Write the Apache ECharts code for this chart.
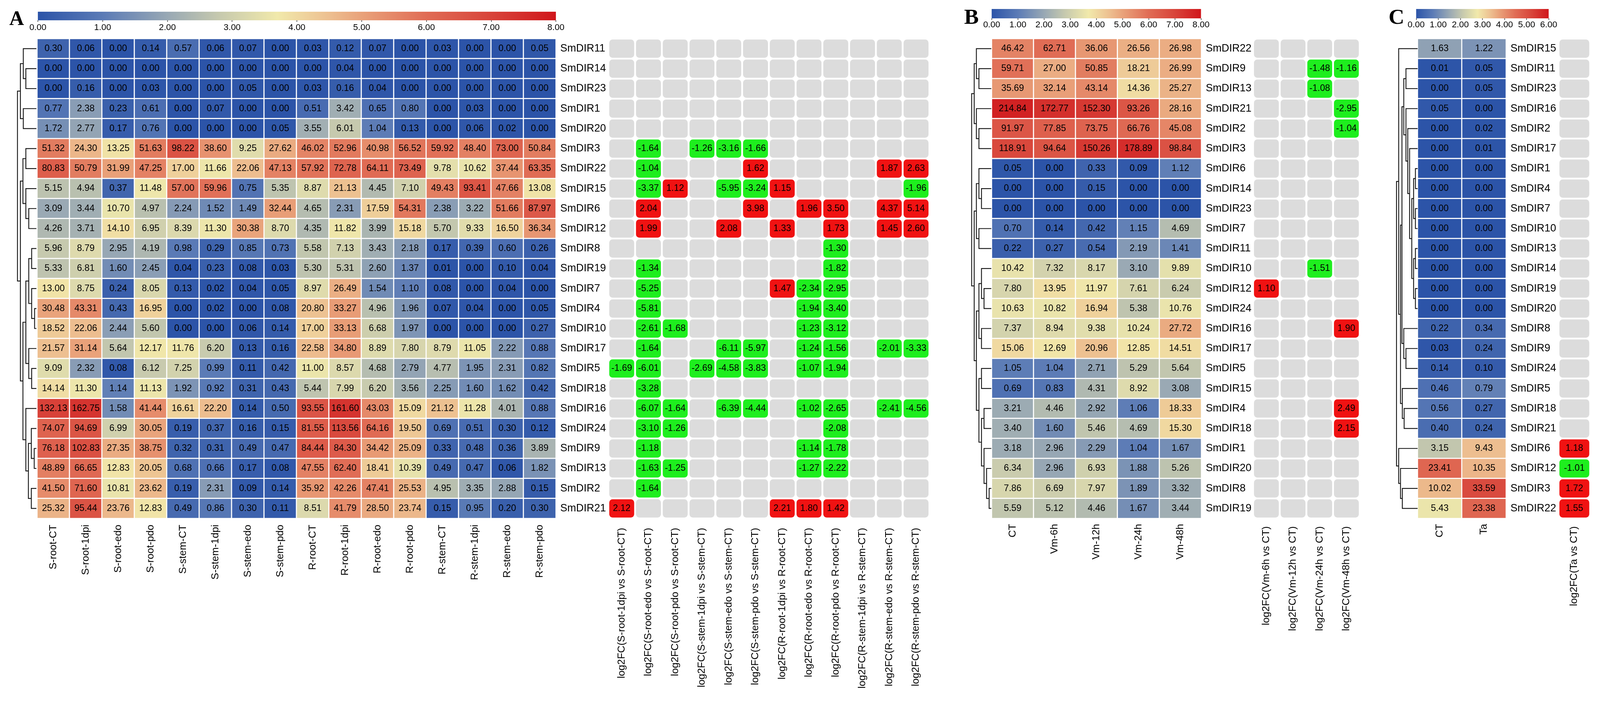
<!DOCTYPE html>
<html>
<head>
<meta charset="utf-8">
<script src="https://cdn.jsdelivr.net/npm/echarts/dist/echarts.min.js"></script>
<style>
  html, body { margin: 0; padding: 0; background: #fff; overflow: hidden; }
  #chart { width: 100vw; height: 100vh; }
</style>
</head>
<body>
<div id="chart"></div>
<script>
// ---- panel A : expression (FPKM) + log2FC ----
var samplesA = ['S-root-CT','S-root-1dpi','S-root-edo','S-root-pdo','S-stem-CT','S-stem-1dpi','S-stem-edo','S-stem-pdo',
                'R-root-CT','R-root-1dpi','R-root-edo','R-root-pdo','R-stem-CT','R-stem-1dpi','R-stem-edo','R-stem-pdo'];
var genesA = ['SmDIR11','SmDIR14','SmDIR23','SmDIR1','SmDIR20','SmDIR3','SmDIR22','SmDIR15','SmDIR6','SmDIR12','SmDIR8','SmDIR19',
              'SmDIR7','SmDIR4','SmDIR10','SmDIR17','SmDIR5','SmDIR18','SmDIR16','SmDIR24','SmDIR9','SmDIR13','SmDIR2','SmDIR21'];
var exprA = [
  [0.30,0.06,0.00,0.14,0.57,0.06,0.07,0.00,0.03,0.12,0.07,0.00,0.03,0.00,0.00,0.05],
  [0.00,0.00,0.00,0.00,0.00,0.00,0.00,0.00,0.00,0.04,0.00,0.00,0.00,0.00,0.00,0.00],
  [0.00,0.16,0.00,0.03,0.00,0.00,0.05,0.00,0.03,0.16,0.04,0.00,0.00,0.00,0.00,0.00],
  [0.77,2.38,0.23,0.61,0.00,0.07,0.00,0.00,0.51,3.42,0.65,0.80,0.00,0.03,0.00,0.00],
  [1.72,2.77,0.17,0.76,0.00,0.00,0.00,0.05,3.55,6.01,1.04,0.13,0.00,0.06,0.02,0.00],
  [51.32,24.30,13.25,51.63,98.22,38.60,9.25,27.62,46.02,52.96,40.98,56.52,59.92,48.40,73.00,50.84],
  [80.83,50.79,31.99,47.25,17.00,11.66,22.06,47.13,57.92,72.78,64.11,73.49,9.78,10.62,37.44,63.35],
  [5.15,4.94,0.37,11.48,57.00,59.96,0.75,5.35,8.87,21.13,4.45,7.10,49.43,93.41,47.66,13.08],
  [3.09,3.44,10.70,4.97,2.24,1.52,1.49,32.44,4.65,2.31,17.59,54.31,2.38,3.22,51.66,87.97],
  [4.26,3.71,14.10,6.95,8.39,11.30,30.38,8.70,4.35,11.82,3.99,15.18,5.70,9.33,16.50,36.34],
  [5.96,8.79,2.95,4.19,0.98,0.29,0.85,0.73,5.58,7.13,3.43,2.18,0.17,0.39,0.60,0.26],
  [5.33,6.81,1.60,2.45,0.04,0.23,0.08,0.03,5.30,5.31,2.60,1.37,0.01,0.00,0.10,0.04],
  [13.00,8.75,0.24,8.05,0.13,0.02,0.04,0.05,8.97,26.49,1.54,1.10,0.08,0.00,0.04,0.00],
  [30.48,43.31,0.43,16.95,0.00,0.02,0.00,0.08,20.80,33.27,4.96,1.96,0.07,0.04,0.00,0.05],
  [18.52,22.06,2.44,5.60,0.00,0.00,0.06,0.14,17.00,33.13,6.68,1.97,0.00,0.00,0.00,0.27],
  [21.57,31.14,5.64,12.17,11.76,6.20,0.13,0.16,22.58,34.80,8.89,7.80,8.79,11.05,2.22,0.88],
  [9.09,2.32,0.08,6.12,7.25,0.99,0.11,0.42,11.00,8.57,4.68,2.79,4.77,1.95,2.31,0.82],
  [14.14,11.30,1.14,11.13,1.92,0.92,0.31,0.43,5.44,7.99,6.20,3.56,2.25,1.60,1.62,0.42],
  [132.13,162.75,1.58,41.44,16.61,22.20,0.14,0.50,93.55,161.60,43.03,15.09,21.12,11.28,4.01,0.88],
  [74.07,94.69,6.99,30.05,0.19,0.37,0.16,0.15,81.55,113.56,64.16,19.50,0.69,0.51,0.30,0.12],
  [76.18,102.83,27.35,38.75,0.32,0.31,0.49,0.47,84.44,84.30,34.42,25.09,0.33,0.48,0.36,3.89],
  [48.89,66.65,12.83,20.05,0.68,0.66,0.17,0.08,47.55,62.40,18.41,10.39,0.49,0.47,0.06,1.82],
  [41.50,71.60,10.81,23.62,0.19,2.31,0.09,0.14,35.92,42.26,47.41,25.53,4.95,3.35,2.88,0.15],
  [25.32,95.44,23.76,12.83,0.49,0.86,0.30,0.11,8.51,41.79,28.50,23.74,0.15,0.95,0.20,0.30]
];
var fcNamesA = ['log2FC(S-root-1dpi vs S-root-CT)','log2FC(S-root-edo vs S-root-CT)','log2FC(S-root-pdo vs S-root-CT)',
                'log2FC(S-stem-1dpi vs S-stem-CT)','log2FC(S-stem-edo vs S-stem-CT)','log2FC(S-stem-pdo vs S-stem-CT)',
                'log2FC(R-root-1dpi vs R-root-CT)','log2FC(R-root-edo vs R-root-CT)','log2FC(R-root-pdo vs R-root-CT)',
                'log2FC(R-stem-1dpi vs R-stem-CT)','log2FC(R-stem-edo vs R-stem-CT)','log2FC(R-stem-pdo vs R-stem-CT)'];
// [gene, comparison index, log2FC]  (only significant ones are coloured)
var fcA = [
  ['SmDIR3',1,-1.64],['SmDIR3',3,-1.26],['SmDIR3',4,-3.16],['SmDIR3',5,-1.66],
  ['SmDIR22',1,-1.04],['SmDIR22',5,1.62],['SmDIR22',10,1.87],['SmDIR22',11,2.63],
  ['SmDIR15',1,-3.37],['SmDIR15',2,1.12],['SmDIR15',4,-5.95],['SmDIR15',5,-3.24],['SmDIR15',6,1.15],['SmDIR15',11,-1.96],
  ['SmDIR6',1,2.04],['SmDIR6',5,3.98],['SmDIR6',7,1.96],['SmDIR6',8,3.50],['SmDIR6',10,4.37],['SmDIR6',11,5.14],
  ['SmDIR12',1,1.99],['SmDIR12',4,2.08],['SmDIR12',6,1.33],['SmDIR12',8,1.73],['SmDIR12',10,1.45],['SmDIR12',11,2.60],
  ['SmDIR8',8,-1.30],
  ['SmDIR19',1,-1.34],['SmDIR19',8,-1.82],
  ['SmDIR7',1,-5.25],['SmDIR7',6,1.47],['SmDIR7',7,-2.34],['SmDIR7',8,-2.95],
  ['SmDIR4',1,-5.81],['SmDIR4',7,-1.94],['SmDIR4',8,-3.40],
  ['SmDIR10',1,-2.61],['SmDIR10',2,-1.68],['SmDIR10',7,-1.23],['SmDIR10',8,-3.12],
  ['SmDIR17',1,-1.64],['SmDIR17',4,-6.11],['SmDIR17',5,-5.97],['SmDIR17',7,-1.24],['SmDIR17',8,-1.56],['SmDIR17',10,-2.01],['SmDIR17',11,-3.33],
  ['SmDIR5',0,-1.69],['SmDIR5',1,-6.01],['SmDIR5',3,-2.69],['SmDIR5',4,-4.58],['SmDIR5',5,-3.83],['SmDIR5',7,-1.07],['SmDIR5',8,-1.94],
  ['SmDIR18',1,-3.28],
  ['SmDIR16',1,-6.07],['SmDIR16',2,-1.64],['SmDIR16',4,-6.39],['SmDIR16',5,-4.44],['SmDIR16',7,-1.02],['SmDIR16',8,-2.65],['SmDIR16',10,-2.41],['SmDIR16',11,-4.56],
  ['SmDIR24',1,-3.10],['SmDIR24',2,-1.26],['SmDIR24',8,-2.08],
  ['SmDIR9',1,-1.18],['SmDIR9',7,-1.14],['SmDIR9',8,-1.78],
  ['SmDIR13',1,-1.63],['SmDIR13',2,-1.25],['SmDIR13',7,-1.27],['SmDIR13',8,-2.22],
  ['SmDIR2',1,-1.64],
  ['SmDIR21',0,2.12],['SmDIR21',6,2.21],['SmDIR21',7,1.80],['SmDIR21',8,1.42]
];
// row dendrogram: [child, child, height]; ids >= 24 are earlier merges
var treeA = [
  [1,2,29],[0,24,36],[3,4,36],[25,26,44],[5,6,29],[8,9,21],[7,29,29],[28,30,37],
  [10,11,13],[13,14,5],[12,33,13],[32,34,21],[16,17,13],[15,36,21],[35,37,29],
  [20,21,6],[19,39,14],[22,23,14],[40,41,22],[18,42,29],[38,43,37],[31,44,44],[27,45,52]
];

// ---- panel B ----
var samplesB = ['CT','Vm-6h','Vm-12h','Vm-24h','Vm-48h'];
var genesB = ['SmDIR22','SmDIR9','SmDIR13','SmDIR21','SmDIR2','SmDIR3','SmDIR6','SmDIR14','SmDIR23','SmDIR7','SmDIR11','SmDIR10',
              'SmDIR12','SmDIR24','SmDIR16','SmDIR17','SmDIR5','SmDIR15','SmDIR4','SmDIR18','SmDIR1','SmDIR20','SmDIR8','SmDIR19'];
var exprB = [
  [46.42,62.71,36.06,26.56,26.98],
  [59.71,27.00,50.85,18.21,26.99],
  [35.69,32.14,43.14,14.36,25.27],
  [214.84,172.77,152.30,93.26,28.16],
  [91.97,77.85,73.75,66.76,45.08],
  [118.91,94.64,150.26,178.89,98.84],
  [0.05,0.00,0.33,0.09,1.12],
  [0.00,0.00,0.15,0.00,0.00],
  [0.00,0.00,0.00,0.00,0.00],
  [0.70,0.14,0.42,1.15,4.69],
  [0.22,0.27,0.54,2.19,1.41],
  [10.42,7.32,8.17,3.10,9.89],
  [7.80,13.95,11.97,7.61,6.24],
  [10.63,10.82,16.94,5.38,10.76],
  [7.37,8.94,9.38,10.24,27.72],
  [15.06,12.69,20.96,12.85,14.51],
  [1.05,1.04,2.71,5.29,5.64],
  [0.69,0.83,4.31,8.92,3.08],
  [3.21,4.46,2.92,1.06,18.33],
  [3.40,1.60,5.46,4.69,15.30],
  [3.18,2.96,2.29,1.04,1.67],
  [6.34,2.96,6.93,1.88,5.26],
  [7.86,6.69,7.97,1.89,3.32],
  [5.59,5.12,4.46,1.67,3.44]
];
var fcNamesB = ['log2FC(Vm-6h vs CT)','log2FC(Vm-12h vs CT)','log2FC(Vm-24h vs CT)','log2FC(Vm-48h vs CT)'];
var fcB = [
  ['SmDIR9',2,-1.48],['SmDIR9',3,-1.16],['SmDIR13',2,-1.08],['SmDIR21',3,-2.95],['SmDIR2',3,-1.04],
  ['SmDIR10',2,-1.51],['SmDIR12',0,1.10],['SmDIR16',3,1.90],['SmDIR4',3,2.49],['SmDIR18',3,2.15]
];
var treeB = [
  [1,2,34],[0,24,41],[4,5,34],[3,26,41],[25,27,47],
  [7,8,27],[6,29,34],[9,10,34],[30,31,41],
  [12,13,20],[11,33,27],[14,15,27],[34,35,34],
  [16,17,27],[18,19,20],[22,23,6],[21,39,13],[20,40,20],[38,41,27],[37,42,34],
  [36,43,41],[32,44,47],[28,45,54]
];

// ---- panel C ----
var samplesC = ['CT','Ta'];
var genesC = ['SmDIR15','SmDIR11','SmDIR23','SmDIR16','SmDIR2','SmDIR17','SmDIR1','SmDIR4','SmDIR7','SmDIR10','SmDIR13','SmDIR14',
              'SmDIR19','SmDIR20','SmDIR8','SmDIR9','SmDIR24','SmDIR5','SmDIR18','SmDIR21','SmDIR6','SmDIR12','SmDIR3','SmDIR22'];
var exprC = [
  [1.63,1.22],[0.01,0.05],[0.00,0.05],[0.05,0.00],[0.00,0.02],[0.00,0.01],[0.00,0.00],[0.00,0.00],
  [0.00,0.00],[0.00,0.00],[0.00,0.00],[0.00,0.00],[0.00,0.00],[0.00,0.00],[0.22,0.34],[0.03,0.24],
  [0.14,0.10],[0.46,0.79],[0.56,0.27],[0.40,0.24],[3.15,9.43],[23.41,10.35],[10.02,33.59],[5.43,23.38]
];
var fcNamesC = ['log2FC(Ta vs CT)'];
var fcC = [['SmDIR6',0,1.18],['SmDIR12',0,-1.01],['SmDIR3',0,1.72],['SmDIR22',0,1.55]];
var treeC = [
  [6,7,6],[8,9,6],[24,25,11],[10,11,6],[12,13,6],[27,28,11],[26,29,16],[5,30,22],[4,31,27],[3,32,32],
  [1,2,32],[34,33,38],[15,16,32],[14,36,38],[35,37,43],[18,19,37],[17,39,42],[38,40,47],[0,41,52],
  [22,23,42],[21,43,47],[20,44,52],[42,45,58]
];

var scaleMaxAB = 8, scaleMaxC = 6;

// ---------------- layout scaling (designed for 4395 x 1829) ----------------
var el = document.getElementById('chart');
var kx = (el.clientWidth || 4395) / 4395, ky = (el.clientHeight || 1829) / 1829, kf = Math.min(kx, ky);
function X(v) { return v * kx; }
function Y(v) { return v * ky; }
function F(v) { return Math.round(v * kf * 10) / 10; }

var FONT = 'Arial, "Liberation Sans", sans-serif';
var stops = [[0,'#2c54a8'],[1,'#5b7bb6'],[2,'#98a8b4'],[2.8,'#c6c9ae'],[3.7,'#f1e9ab'],[4.5,'#edbf90'],
             [5,'#e9a27a'],[6,'#e06c55'],[7,'#d8443a'],[8,'#d0161b']];
function hex(c) { return [parseInt(c.substr(1,2),16), parseInt(c.substr(3,2),16), parseInt(c.substr(5,2),16)]; }
function colorAt(v) {
  for (var i = 1; i < stops.length; i++) {
    if (v <= stops[i][0]) {
      var a = hex(stops[i-1][1]), b = hex(stops[i][1]);
      var t = (v - stops[i-1][0]) / (stops[i][0] - stops[i-1][0]);
      return 'rgb(' + [0,1,2].map(function (k) { return Math.round(a[k] + (b[k]-a[k])*t); }).join(',') + ')';
    }
  }
  return stops[stops.length-1][1];
}
var palette = [];
for (var p = 0; p <= 64; p++) palette.push(colorAt(p / 8));
function gradient() {
  return new echarts.graphic.LinearGradient(0, 0, 1, 0, stops.map(function (s) { return {offset: s[0]/8, color: s[1]}; }));
}

function heatData(expr, cap) {
  var out = [];
  expr.forEach(function (row, r) {
    row.forEach(function (v, c) { out.push([c, r, Math.min(Math.log2(v + 1), cap), v]); });
  });
  return out;
}
function fcData(genes, ncol, fc) {
  var out = [];
  genes.forEach(function (g, r) { for (var c = 0; c < ncol; c++) out.push([c, r, 0, 0]); });
  fc.forEach(function (f) {
    var r = genes.indexOf(f[0]);
    out[r * ncol + f[1]] = [f[1], r, f[2], 1];
  });
  return out;
}
function dendro(tree, n) {
  var pos = [], ht = [], lines = [];
  for (var i = 0; i < n; i++) { pos[i] = i; ht[i] = 0; }
  tree.forEach(function (m, k) {
    var a = m[0], b = m[1], h = m[2], id = n + k;
    pos[id] = (pos[a] + pos[b]) / 2; ht[id] = h;
    lines.push({coords: [[ht[a], pos[a]], [h, pos[a]], [h, pos[b]], [ht[b], pos[b]]]});
  });
  return lines;
}
function fcRender(params, api) {
  var c = api.coord([api.value(0), api.value(1)]);
  var s = api.size([1, 1]);
  var w = s[0] - X(5), h = s[1] - Y(4.5);
  var has = api.value(3) === 1, v = api.value(2);
  return {
    type: 'rect',
    shape: {x: c[0] - w/2, y: c[1] - h/2, width: w, height: h, r: F(9)},
    style: {fill: has ? (v > 0 ? '#f01212' : '#1eee1e') : '#dcdcdc'},
    textContent: {style: {text: has ? v.toFixed(2) : '', fill: '#000', font: F(25) + 'px ' + FONT}},
    textConfig: {position: 'inside'}
  };
}

var TOP = Y(99), H = Y(1229);
var grids = [
  {left: X(102), top: TOP, width: X(1425), height: H},   // 0 heat A
  {left: X(2724), top: TOP, width: X(576), height: H},   // 1 heat B
  {left: X(3894), top: TOP, width: X(243), height: H},   // 2 heat C
  {left: X(1671), top: TOP, width: X(882), height: H},   // 3 fc A
  {left: X(3442), top: TOP, width: X(293), height: H},   // 4 fc B
  {left: X(4281), top: TOP, width: X(87), height: H},    // 5 fc C
  {left: X(40), top: TOP, width: X(60), height: H},      // 6 dendro A
  {left: X(2663), top: TOP, width: X(60), height: H},    // 7 dendro B
  {left: X(3834), top: TOP, width: X(60), height: H},    // 8 dendro C
  {left: X(104), top: Y(30), width: X(1423), height: Y(22)},   // 9 colour bar A
  {left: X(2724), top: Y(23), width: X(575), height: Y(24)},   // 10 colour bar B
  {left: X(3890), top: Y(23), width: X(364), height: Y(24)}    // 11 colour bar C
];

function catX(idx, data, margin) {
  return {type: 'category', gridIndex: idx, data: data, position: 'bottom',
    axisLine: {show: false}, axisTick: {show: false}, splitLine: {show: false},
    axisLabel: {rotate: 90, interval: 0, margin: Y(margin), fontSize: F(28), color: '#000', fontFamily: FONT}};
}
function catY(idx, data, showLabel) {
  return {type: 'category', gridIndex: idx, data: data, inverse: true, position: 'right',
    axisLine: {show: false}, axisTick: {show: false}, splitLine: {show: false},
    axisLabel: {show: showLabel, margin: X(12), fontSize: F(29), color: '#000', fontFamily: FONT}};
}
function dendX(idx) { return {type: 'value', gridIndex: idx, min: 0, max: 60, inverse: true, show: false}; }
function dendY(idx) { return {type: 'value', gridIndex: idx, min: -0.5, max: 23.5, inverse: true, show: false}; }
function barX(idx, max, margin) {
  return {type: 'value', gridIndex: idx, min: 0, max: max, interval: 1, position: 'bottom',
    axisLine: {show: false}, splitLine: {show: false},
    axisTick: {show: true, length: Y(4), lineStyle: {color: '#333', width: 1.5}},
    axisLabel: {margin: Y(margin), fontSize: F(24), color: '#000', fontFamily: FONT,
      formatter: function (v) { return v.toFixed(2); }}};
}
function barY(idx) { return {type: 'category', gridIndex: idx, data: [''], show: false}; }

function heatSeries(idx, expr, cap) {
  return {type: 'heatmap', xAxisIndex: idx, yAxisIndex: idx, data: heatData(expr, cap), silent: true,
    itemStyle: {borderColor: '#fff', borderWidth: F(3)},
    label: {show: true, fontSize: F(25), color: '#000', fontFamily: FONT,
      formatter: function (p) { return p.value[3].toFixed(2); }}};
}
function fcSeries(idx, genes, names, fc) {
  return {type: 'custom', xAxisIndex: idx, yAxisIndex: idx, renderItem: fcRender, silent: true,
    data: fcData(genes, names.length, fc)};
}
function dendSeries(idx, tree) {
  return {type: 'lines', coordinateSystem: 'cartesian2d', xAxisIndex: idx, yAxisIndex: idx, polyline: true,
    silent: true, lineStyle: {color: '#111', width: F(2.4), opacity: 1}, data: dendro(tree, 24)};
}
function barSeries(idx, max) {
  return {type: 'bar', xAxisIndex: idx, yAxisIndex: idx, data: [max], barWidth: '100%', silent: true,
    itemStyle: {color: gradient()}};
}

function letter(t, l, tp, size) {
  return {text: t, left: X(l), top: Y(tp), textStyle: {fontFamily: '"Liberation Serif", "Times New Roman", serif',
    fontWeight: 'bold', fontSize: F(size), color: '#000'}};
}

var chart = echarts.init(el, null, {renderer: 'canvas'});
chart.setOption({
  animation: false,
  backgroundColor: '#fff',
  title: [letter('A', 20, 20, 56), letter('B', 2643, 14, 60), letter('C', 3809, 14, 60)],
  grid: grids,
  xAxis: [
    catX(0, samplesA, 16), catX(1, samplesB, 14), catX(2, samplesC, 14),
    catX(3, fcNamesA, 24), catX(4, fcNamesB, 20), catX(5, fcNamesC, 20),
    dendX(6), dendX(7), dendX(8),
    barX(9, scaleMaxAB, 8), barX(10, scaleMaxAB, 6), barX(11, scaleMaxC, 6)
  ],
  yAxis: [
    catY(0, genesA, true), catY(1, genesB, true), catY(2, genesC, true),
    catY(3, genesA, false), catY(4, genesB, false), catY(5, genesC, false),
    dendY(6), dendY(7), dendY(8),
    barY(9), barY(10), barY(11)
  ],
  visualMap: [
    {type: 'continuous', show: false, min: 0, max: 8, dimension: 2, seriesIndex: [0, 1], inRange: {color: palette}},
    {type: 'continuous', show: false, min: 0, max: 6, dimension: 2, seriesIndex: [2], inRange: {color: palette}}
  ],
  series: [
    heatSeries(0, exprA, 8), heatSeries(1, exprB, 8), heatSeries(2, exprC, 6),
    fcSeries(3, genesA, fcNamesA, fcA), fcSeries(4, genesB, fcNamesB, fcB), fcSeries(5, genesC, fcNamesC, fcC),
    dendSeries(6, treeA), dendSeries(7, treeB), dendSeries(8, treeC),
    barSeries(9, scaleMaxAB), barSeries(10, scaleMaxAB), barSeries(11, scaleMaxC)
  ]
});
</script>
</body>
</html>
